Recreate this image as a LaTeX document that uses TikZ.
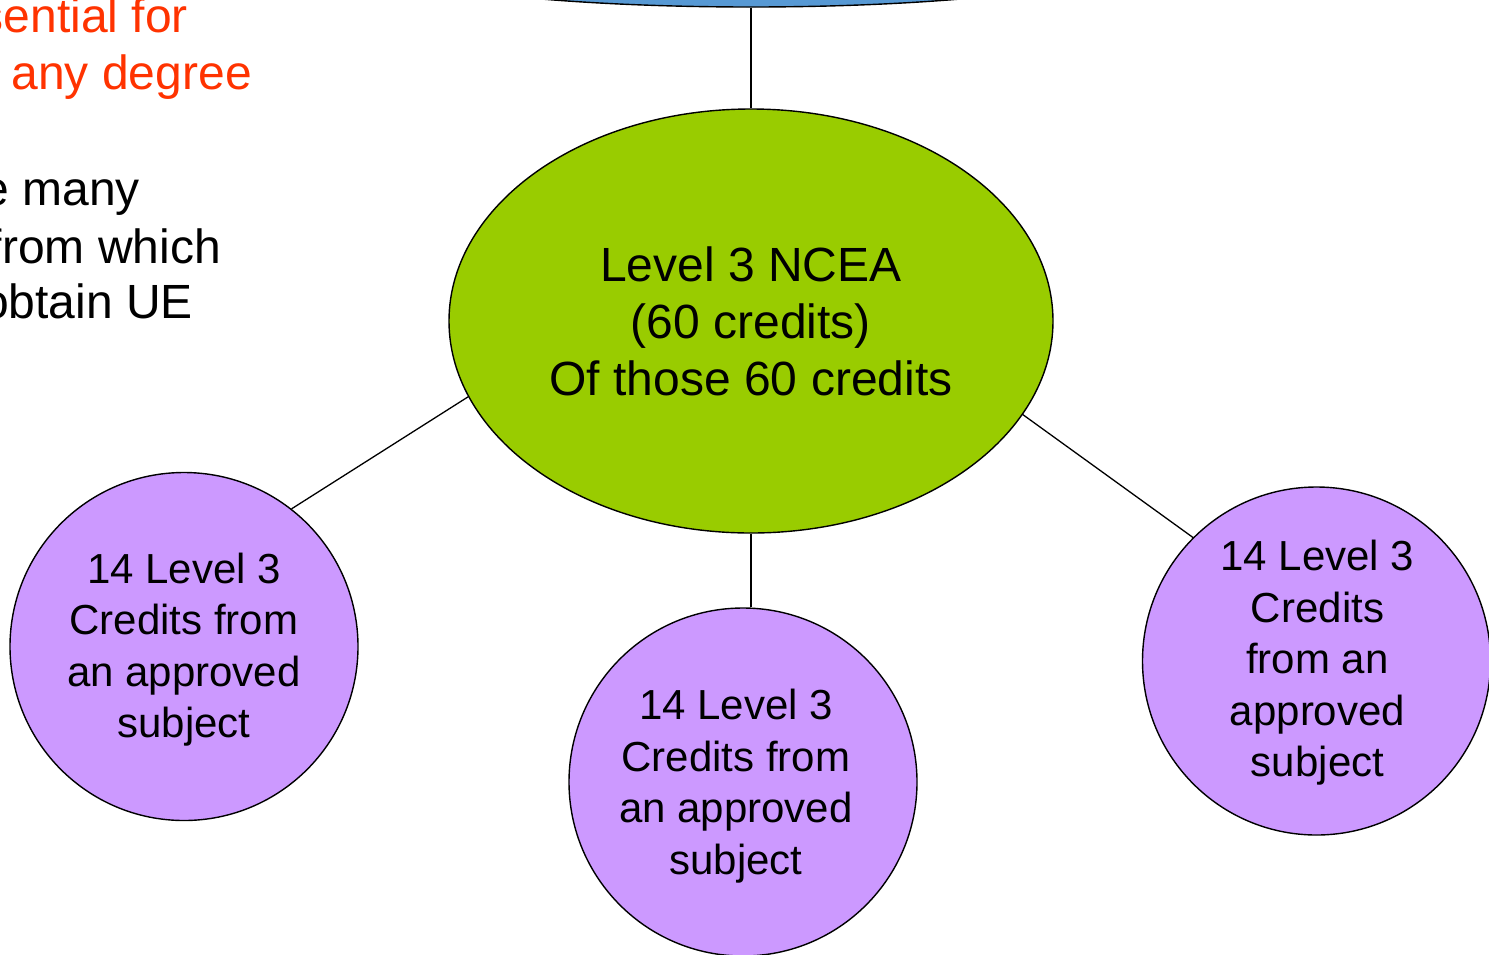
\documentclass[tikz,border=0pt]{standalone}
\usepackage{fontspec}
\setmainfont{Liberation Sans}
\usetikzlibrary{shapes.geometric}
\definecolor{topblue}{HTML}{5799D4}
\definecolor{ncgreen}{HTML}{99CC00}
\definecolor{subpurple}{HTML}{CC99FF}
\definecolor{redtxt}{HTML}{FF3300}
\tikzset{
  bigtext/.style={font=\fontsize{48}{57}\selectfont},
  circtext/.style={font=\fontsize{42}{51.5}\selectfont, align=center, inner sep=0pt},
  subjcircle/.style={circle, draw=black, line width=1.4pt, fill=subpurple, minimum size=348pt, inner sep=0pt},
  connector/.style={draw=black, line width=1.3pt},
  sidetext/.style={anchor=base east, inner sep=0pt, bigtext},
}
\begin{document}
\begin{tikzpicture}[x=1pt,y=-1pt]
\useasboundingbox (0,0) rectangle (1489,954);
\clip (0,0) rectangle (1489,954);
\fill[white] (0,0) rectangle (1489,954);

% left side texts (partly cut off)
\node[sidetext, text=redtxt] (t1) at (188,32) {sential for};
\node[sidetext, text=redtxt] (t2) at (252,89) {any degree};
\node[sidetext] (t3) at (140,205) {e many};
\node[sidetext] (t4) at (221,263) {from which};
\node[sidetext] (t5) at (193,318) {obtain UE};

% top blue ellipse (mostly out of view)
\node[ellipse, draw=black, line width=1.4pt, fill=topblue, minimum width=800pt, minimum height=108pt, inner sep=0pt] (top) at (751,-47) {};

% central green ellipse
\node[ellipse, draw=black, line width=1.4pt, fill=ncgreen, minimum width=604pt, minimum height=424pt, inner sep=0pt, align=center, bigtext] (ncea) at (751,321) {Level 3 NCEA\\(60 credits)\\Of those 60 credits};

% subject circles
\node[subjcircle] (left) at (184,646.5) {};
\node[subjcircle] (mid) at (743,782) {};
\node[subjcircle] (right) at (1316.5,661) {};
\node[circtext] (lefttxt) at ([yshift=-3pt]left.center) {14 Level 3\\Credits from\\an approved\\subject};
\node[circtext] (midtxt) at ([xshift=-7pt,yshift=-4pt]mid.center) {14 Level 3\\Credits from\\an approved\\subject};
\node[circtext] (righttxt) at ([xshift=1pt,yshift=-2pt]right.center) {14 Level 3\\Credits\\from an\\approved\\subject};

% connectors
\draw[connector] (top.south) -- (ncea.north);
\draw[connector] (ncea.195.4) -- (left.52.5);
\draw[connector] (ncea.south) -- (ncea.south |- mid.north);
\draw[connector] (ncea.341.4) -- (right.135);
\end{tikzpicture}
\end{document}
